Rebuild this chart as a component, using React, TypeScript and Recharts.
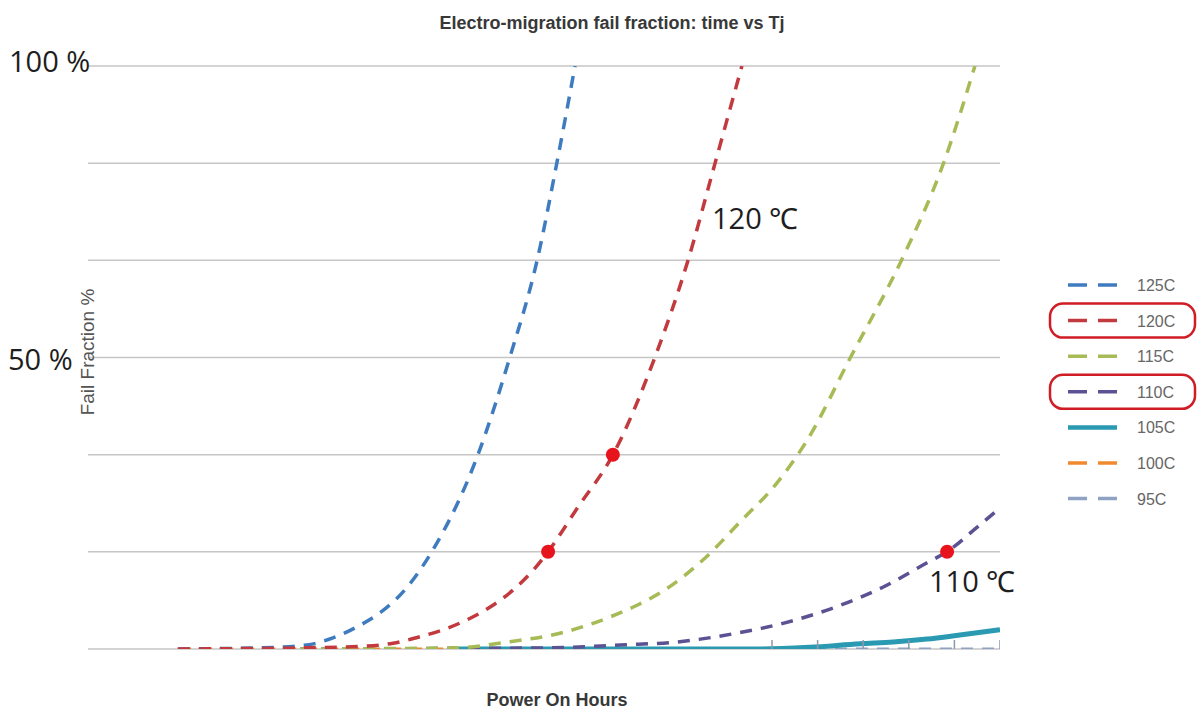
import React from "react";
import { LineChart, Line, XAxis, YAxis, ReferenceLine, ReferenceDot } from "recharts";

if (typeof document !== "undefined") document.body.style.margin = "0";

// ---- data (x = power-on time units, y = fail fraction %) ----
const hours125 = [1.97, 3.77, 4.8, 5.37, 5.9, 6.4, 6.91, 7.54, 8.55, 9.25, 9.85, 10.28, 10.68];
const fail125 = [0, 0.2, 0.7, 1.9, 3.8, 6.2, 9.8, 16.7, 33.3, 50, 66.7, 83.3, 100];

const hours120 = [1.97, 4.65, 6.12, 6.69, 7.28, 7.79, 8.31, 8.82, 9.32, 9.76, 10.09, 10.75, 11.51, 12.43, 13.16, 13.75, 14.34];
const fail120 = [0, 0.2, 0.5, 1.0, 2.1, 3.3, 5.0, 7.2, 10.1, 13.5, 16.7, 24.4, 33.3, 50, 66.7, 83.3, 100];

const hours115 = [4.65, 8.09, 9.19, 10.35, 11.45, 12.04, 12.54, 13.49, 14.3, 15.11, 15.77, 16.72, 17.84, 18.76, 19.45];
const fail115 = [0, 0.2, 1.2, 2.7, 5.5, 7.5, 9.6, 15.3, 21.8, 28.5, 35.8, 50, 66.7, 83.3, 100];

const hours110 = [4.65, 10.13, 11.67, 12.92, 14.14, 15.24, 16.43, 17.43, 18.4, 18.84, 19.5, 20];
const fail110 = [0, 0.2, 0.7, 1.2, 2.6, 4.4, 7.3, 10.6, 14.8, 16.7, 20.9, 24.2];

const hours105 = [7.94, 14.74, 15.83, 16.93, 17.66, 18.4, 19.12, 20];
const fail105 = [0, 0, 0.3, 0.9, 1.2, 1.7, 2.4, 3.3];

const hours100 = [2, 8, 15];
const fail100 = [0, 0, 0];

const hours95 = [15, 16, 17, 18, 19, 20];
const fail95 = [0, 0, 0, 0, 0, 0];

const highlightHours = [10.09, 11.51, 18.84];
const highlightFail = [16.67, 33.33, 16.67];

const yTicks = [0, 16.67, 33.33, 50, 66.67, 83.33, 100];

const seriesNames = ["125C", "120C", "115C", "110C", "105C", "100C", "95C"];
const circledNames = ["120C", "110C"];

const toPts = (xs: number[], ys: number[]) => xs.map((x, i) => ({ x, y: ys[i] }));

const COLORS: Record<string, string> = {
  "125C": "#3f7cbf",
  "120C": "#c2393e",
  "115C": "#a6bb55",
  "110C": "#5a5292",
  "105C": "#2a9ab2",
  "100C": "#ef8a2e",
  "95C": "#8fa2c4",
};

const DASH = "12 9";

const TickDot = (props: any) => {
  const { cx, cy, index } = props;
  if (cx == null || cy == null) return <g key={"t" + index} />;
  return (
    <line key={"t" + index} x1={cx} x2={cx} y1={cy - 9} y2={cy + 9} stroke="#8d99ad" strokeWidth={1.5} />
  );
};

export default function App() {
  const legendTop = 285;
  const legendStep = 35.6;
  return (
    <div style={{ position: "relative", width: 1200, height: 711, background: "#fff", overflow: "hidden" }}>
      <LineChart width={1200} height={711} margin={{ top: 66, right: 200, bottom: 62, left: 88 }}>
        <XAxis
          type="number"
          dataKey="x"
          domain={[0, 20]}
          allowDataOverflow
          tick={false}
          tickLine={false}
          axisLine={{ stroke: "#a8a8a8", strokeWidth: 1.5 }}
          height={0}
        />
        <YAxis
          type="number"
          dataKey="y"
          domain={[0, 100]}
          ticks={yTicks}
          allowDataOverflow
          width={0}
          tick={false}
          tickLine={false}
          axisLine={false}
        />
        {yTicks.map((t) => (
          <ReferenceLine key={"g" + t} y={t} stroke="#c6c6c6" strokeWidth={1.5} />
        ))}
        <Line data={toPts(hours95, fail95)} dataKey="y" stroke={COLORS["95C"]} strokeWidth={3} strokeDasharray={DASH} dot={TickDot} isAnimationActive={false} type="monotone" />
        <Line data={toPts(hours100, fail100)} dataKey="y" stroke={COLORS["100C"]} strokeWidth={3} strokeDasharray={DASH} dot={false} isAnimationActive={false} type="monotone" />
        <Line data={toPts(hours105, fail105)} dataKey="y" stroke={COLORS["105C"]} strokeWidth={5} dot={false} isAnimationActive={false} type="monotone" />
        <Line data={toPts(hours110, fail110)} dataKey="y" stroke={COLORS["110C"]} strokeWidth={3.5} strokeDasharray={DASH} dot={false} isAnimationActive={false} type="monotone" />
        <Line data={toPts(hours115, fail115)} dataKey="y" stroke={COLORS["115C"]} strokeWidth={3.5} strokeDasharray={DASH} dot={false} isAnimationActive={false} type="monotone" />
        <Line data={toPts(hours125, fail125)} dataKey="y" stroke={COLORS["125C"]} strokeWidth={3.5} strokeDasharray={DASH} dot={false} isAnimationActive={false} type="monotone" />
        <Line data={toPts(hours120, fail120)} dataKey="y" stroke={COLORS["120C"]} strokeWidth={3.5} strokeDasharray={DASH} dot={false} isAnimationActive={false} type="monotone" />
        {highlightHours.map((h, i) => (
          <ReferenceDot key={i} x={h} y={highlightFail[i]} r={7} fill="#e8141d" stroke="none" ifOverflow="visible" />
        ))}
      </LineChart>

      <svg width={1200} height={711} style={{ position: "absolute", left: 0, top: 0, pointerEvents: "none" }}>
        <text x={612} y={29} textAnchor="middle" fontFamily="'Liberation Sans', Arial, sans-serif" fontWeight="bold" fontSize={18} fill="#383838">
          Electro-migration fail fraction: time vs Tj
        </text>
        <text x={557} y={706} textAnchor="middle" fontFamily="'Liberation Sans', Arial, sans-serif" fontWeight="bold" fontSize={18} fill="#383838">
          Power On Hours
        </text>
        <text x={0} y={0} transform="translate(94 352) rotate(-90)" textAnchor="middle" fontFamily="'Liberation Sans', Arial, sans-serif" fontSize={19} fill="#555">
          Fail Fraction %
        </text>
        <text x={9} y={72} fontFamily="'Open Sans', sans-serif" fontSize={29} fill="#1e1e1e">100 %</text>
        <text x={8} y={370} fontFamily="'Open Sans', sans-serif" fontSize={29} fill="#1e1e1e">50 %</text>
        <text x={712} y={229} fontFamily="'Open Sans', sans-serif" fontSize={29} fill="#1e1e1e">120 ℃</text>
        <text x={929} y={592} fontFamily="'Open Sans', sans-serif" fontSize={29} fill="#1e1e1e">110 ℃</text>

        {seriesNames.map((name, i) => {
          const cy = legendTop + i * legendStep;
          const color = COLORS[name];
          const solid = name === "105C";
          return (
            <g key={name}>
              {solid ? (
                <line x1={1068} x2={1117} y1={cy} y2={cy} stroke={color} strokeWidth={4.5} />
              ) : (
                <line x1={1068} x2={1117} y1={cy} y2={cy} stroke={color} strokeWidth={3.5} strokeDasharray="19 11" />
              )}
              <text x={1137} y={cy + 6} fontFamily="'Liberation Sans', Arial, sans-serif" fontSize={16} fill="#666">
                {name}
              </text>
              {circledNames.includes(name) && (
                <rect x={1050} y={cy - 17} width={145} height={34} rx={13} ry={13} fill="none" stroke="#d01c25" strokeWidth={2.5} />
              )}
            </g>
          );
        })}
      </svg>
    </div>
  );
}
